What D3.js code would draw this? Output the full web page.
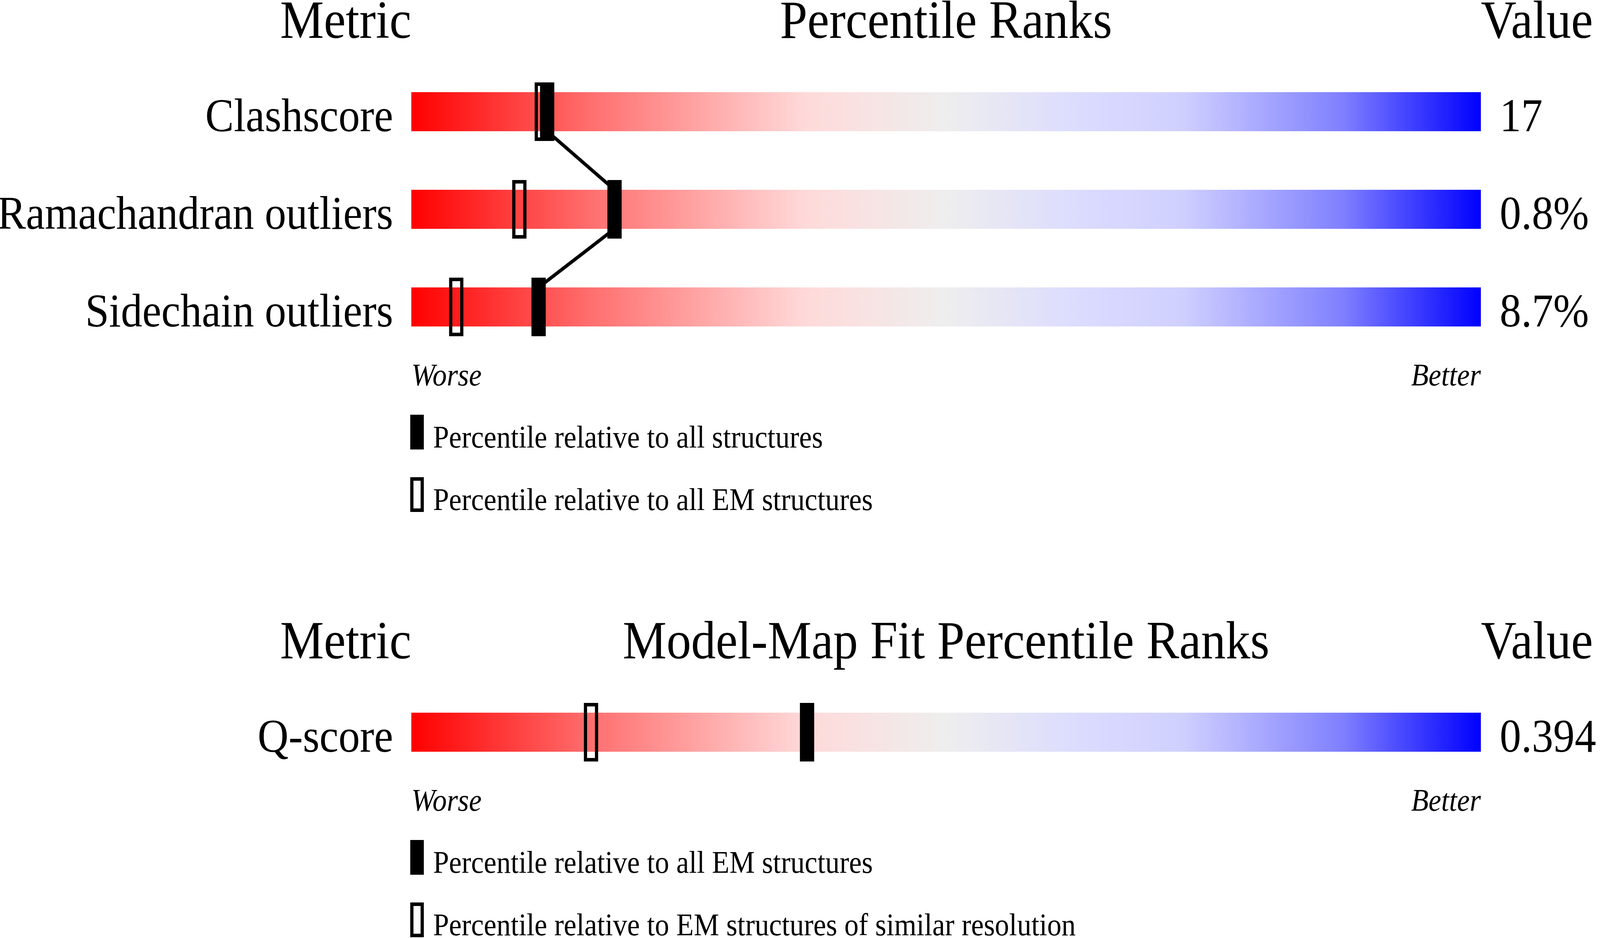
<!DOCTYPE html>
<html>
<head>
<meta charset="utf-8">
<script src="https://cdn.jsdelivr.net/npm/d3@7"></script>
<style>
  html, body { margin: 0; padding: 0; background: #fff; overflow: hidden; }
  svg { display: block; width: 100vw; height: 100vh; }
  text { font-family: "Liberation Serif", "Times New Roman", serif; fill: #000; }
</style>
</head>
<body>
<svg id="chart"></svg>
<script>
// geometry validation sliders
var metrics = ["Clashscore", "Ramachandran outliers", "Sidechain outliers"];
var values = ["17", "0.8%", "8.7%"];
var pctAll = [12.7, 19, 11.9];     // filled marker
var pctEM = [12.2, 10.1, 4.2];     // open marker

// model-map fit slider
var fitMetrics = ["Q-score"];
var fitValues = ["0.394"];
var fitPctEM = [37];               // filled marker
var fitPctRes = [16.8];            // open marker

var legend1 = ["Percentile relative to all structures", "Percentile relative to all EM structures"];
var legend2 = ["Percentile relative to all EM structures", "Percentile relative to EM structures of similar resolution"];

// drawn in a 4485x2402 frame, stretched onto whatever the window gives
var W = 4485, H = 2402;
var svg = d3.select('#chart')
  .attr('viewBox', `0 0 ${W} ${H}`)
  .attr('preserveAspectRatio', 'none');

var stops = [
  [0, '#ff0000'], [0.17, '#ff7070'], [0.37, '#ffdada'], [0.5, '#eeeeee'],
  [0.62, '#dcdcff'], [0.72, '#d0d0ff'], [0.87, '#8080ff'], [1, '#0000ff']
];
var grad = svg.append('defs').append('linearGradient')
  .attr('id', 'slider')
  .attr('x1', '0%').attr('x2', '100%').attr('y1', '0%').attr('y2', '0%');
grad.selectAll('stop').data(stops).enter().append('stop')
  .attr('offset', d => d[0])
  .attr('stop-color', d => d[1]);

var x = d3.scaleLinear().domain([0, 100]).range([1153, 4151]);
var barH = 100, mw = 40, over = 25, sw = 9;

function panel(top, title, names, vals, filled, open, legend) {
  var g = svg.append('g');
  var y = d3.scaleLinear().domain([0, 1]).range([top + 139, top + 139 + 250]);
  var n = names.length;

  g.append('text').attr('x', x(0)).attr('y', top).attr('text-anchor', 'end')
    .style('font-size', '138px').text('Metric');
  g.append('text').attr('x', x(50)).attr('y', top).attr('text-anchor', 'middle')
    .style('font-size', '138px').text(title);
  g.append('text').attr('x', x(100)).attr('y', top)
    .style('font-size', '138px').text('Value');

  g.selectAll('rect.bar').data(names).enter().append('rect')
    .attr('class', 'bar')
    .attr('x', x(0)).attr('width', x(100) - x(0))
    .attr('y', (d, i) => y(i)).attr('height', barH)
    .attr('fill', 'url(#slider)');

  g.selectAll('text.name').data(names).enter().append('text')
    .attr('class', 'name')
    .attr('x', x(0) - 51).attr('y', (d, i) => y(i) + barH)
    .attr('text-anchor', 'end')
    .style('font-size', '120px')
    .text(d => d);

  g.selectAll('text.val').data(vals).enter().append('text')
    .attr('class', 'val')
    .attr('x', x(100) + 53).attr('y', (d, i) => y(i) + barH)
    .style('font-size', '120px')
    .text(d => d);

  // connector between filled markers
  var segs = d3.range(n - 1).map(i => [
    [x(filled[i]), y(i) + barH], [x(filled[i + 1]), y(i + 1)]
  ]);
  g.selectAll('line.link').data(segs).enter().append('line')
    .attr('class', 'link')
    .attr('x1', d => d[0][0]).attr('y1', d => d[0][1])
    .attr('x2', d => d[1][0]).attr('y2', d => d[1][1])
    .attr('stroke', '#000').attr('stroke-width', sw);

  g.selectAll('rect.open').data(open).enter().append('rect')
    .attr('class', 'open')
    .attr('x', d => x(d) - mw / 2 + sw / 2)
    .attr('y', (d, i) => y(i) - over + sw / 2)
    .attr('width', mw - sw).attr('height', barH + 2 * over - sw)
    .attr('fill', 'none').attr('stroke', '#000').attr('stroke-width', sw);

  g.selectAll('rect.fill').data(filled).enter().append('rect')
    .attr('class', 'fill')
    .attr('x', d => x(d) - mw / 2)
    .attr('y', (d, i) => y(i) - over)
    .attr('width', mw).attr('height', barH + 2 * over)
    .attr('fill', '#000');

  var wy = y(n - 1) + barH + 151;
  g.append('text').attr('x', x(0)).attr('y', wy)
    .style('font-size', '80px').style('font-style', 'italic').text('Worse');
  g.append('text').attr('x', x(100)).attr('y', wy).attr('text-anchor', 'end')
    .style('font-size', '80px').style('font-style', 'italic').text('Better');

  var lg = g.selectAll('g.leg').data(legend).enter().append('g')
    .attr('class', 'leg')
    .attr('transform', (d, i) => `translate(1150, ${wy + 75 + i * 160})`);
  lg.append('rect')
    .attr('x', (d, i) => i ? sw / 2 : 0)
    .attr('y', (d, i) => i ? sw / 2 : 0)
    .attr('width', (d, i) => i ? 38 - sw : 38)
    .attr('height', (d, i) => i ? 89 - sw : 89)
    .attr('fill', (d, i) => i ? 'none' : '#000')
    .attr('stroke', (d, i) => i ? '#000' : 'none')
    .attr('stroke-width', sw);
  lg.append('text').attr('x', 64).attr('y', 84)
    .style('font-size', '80px').text(d => d);
}

panel(97, 'Percentile Ranks', metrics, values, pctAll, pctEM, legend1);
panel(1686, 'Model-Map Fit Percentile Ranks', fitMetrics, fitValues, fitPctEM, fitPctRes, legend2);
</script>
</body>
</html>
